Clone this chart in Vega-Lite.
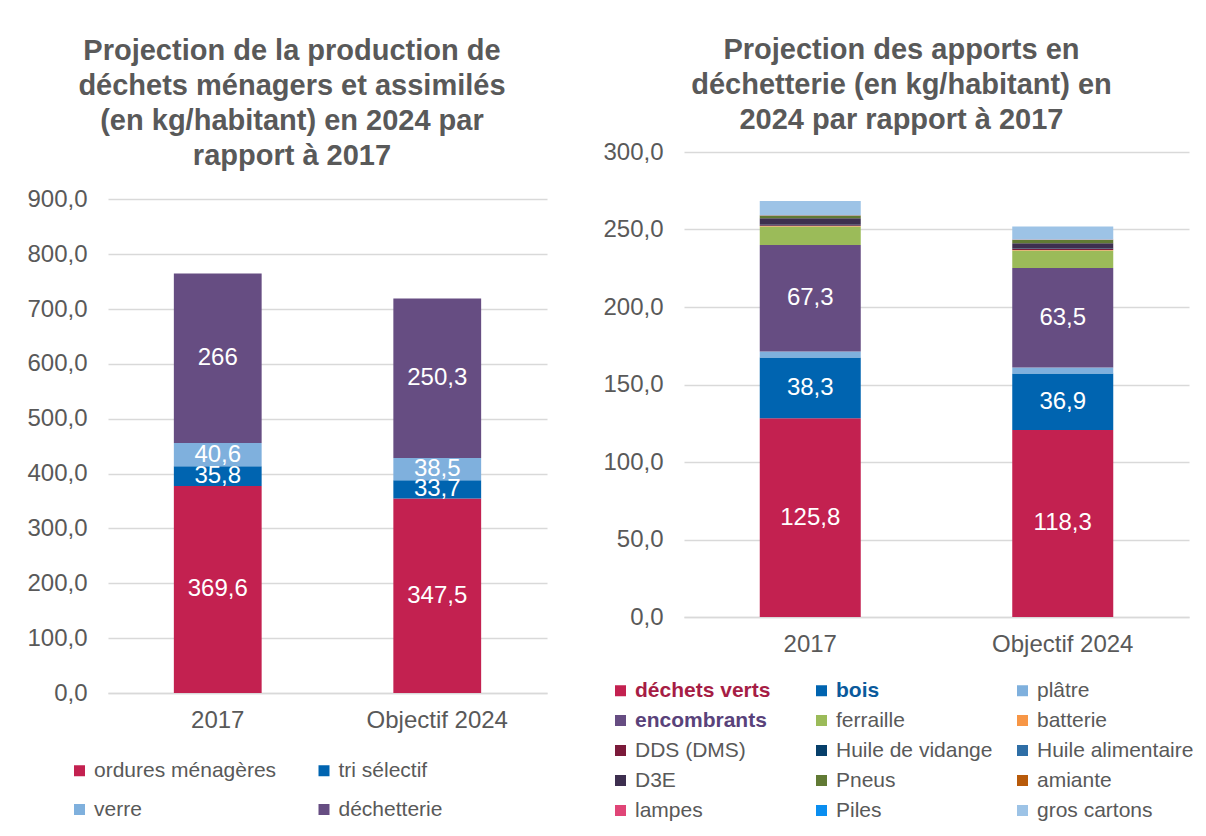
{
  "$schema": "https://vega.github.io/schema/vega-lite/v6.json",
  "background": "white",
  "padding": {"left": 26, "top": 36, "right": 0, "bottom": 0},
  "spacing": 55,
  "config": {
    "font": "Liberation Sans",
    "view": {"stroke": null},
    "axis": {"labelFont": "Liberation Sans", "labelColor": "#595959", "title": null},
    "legend": {"labelFont": "Liberation Sans"}
  },
  "resolve": {"scale": {"color": "independent"}, "legend": {"color": "independent"}},
  "hconcat": [
    {
      "title": {
        "text": ["Projection de la production de", "déchets ménagers et assimilés", "(en kg/habitant) en 2024 par", "rapport à 2017"],
        "font": "Liberation Sans", "fontSize": 29, "fontWeight": "bold", "color": "#595959",
        "lineHeight": 35, "anchor": "middle", "frame": "bounds", "offset": -19, "dx": 5
      },
      "width": 439,
      "height": 541,
      "data": {"values": [
        {"annee": "2017", "serie": "ordures ménagères", "rang": 1, "valeur": 377.4, "etiquette": "369,6"},
        {"annee": "2017", "serie": "tri sélectif", "rang": 2, "valeur": 35.9, "etiquette": "35,8"},
        {"annee": "2017", "serie": "verre", "rang": 3, "valeur": 42.4, "etiquette": "40,6"},
        {"annee": "2017", "serie": "déchetterie", "rang": 4, "valeur": 308.8, "etiquette": "266"},
        {"annee": "Objectif 2024", "serie": "ordures ménagères", "rang": 1, "valeur": 354.4, "etiquette": "347,5"},
        {"annee": "Objectif 2024", "serie": "tri sélectif", "rang": 2, "valeur": 33.3, "etiquette": "33,7"},
        {"annee": "Objectif 2024", "serie": "verre", "rang": 3, "valeur": 40.7, "etiquette": "38,5"},
        {"annee": "Objectif 2024", "serie": "déchetterie", "rang": 4, "valeur": 290.6, "etiquette": "250,3"}
      ]},
      "transform": [
        {"stack": "valeur", "groupby": ["annee"], "sort": [{"field": "rang", "order": "ascending"}], "as": ["v0", "v1"]}
      ],
      "layer": [
        {
          "mark": {"type": "bar"},
          "encoding": {
            "x": {"field": "annee", "type": "nominal",
              "scale": {"paddingInner": 0.6, "paddingOuter": 0.3},
              "axis": {"labelAngle": 0, "labelFontSize": 24, "labelPadding": 15, "ticks": false, "domain": true, "domainColor": "#D9D9D9", "domainWidth": 1.5, "title": null}},
            "y": {"field": "v0", "type": "quantitative",
              "scale": {"domain": [0, 986.2], "nice": false},
              "axis": {"values": [0, 100, 200, 300, 400, 500, 600, 700, 800, 900], "labelExpr": "replace(format(datum.value, '.1f'), '.', ',')", "labelFontSize": 24, "labelPadding": 21, "ticks": false, "domain": false, "gridColor": "#D9D9D9", "gridWidth": 1.5, "title": null}},
            "y2": {"field": "v1"},
            "color": {"field": "serie", "type": "nominal",
              "scale": {"domain": ["ordures ménagères", "tri sélectif", "verre", "déchetterie"], "range": ["#C32150", "#0064B0", "#7FB0DD", "#664D82"]},
              "legend": {"title": null, "orient": "none", "legendX": -39, "legendY": 608, "columns": 2, "direction": "horizontal",
                "symbolType": "square", "symbolSize": 121, "symbolStrokeWidth": 0, "labelFontSize": 21, "labelColor": "#595959",
                "labelLimit": 400, "labelOffset": 4, "columnPadding": 36.5, "rowPadding": 17, "gridAlign": "all"}}
          }
        },
        {
          "transform": [
            {"fold": ["v0", "v1"], "as": ["bord", "pos"]},
            {"aggregate": [{"op": "mean", "field": "pos", "as": "milieu"}], "groupby": ["annee", "etiquette"]}
          ],
          "mark": {"type": "text", "color": "white", "fontSize": 24, "font": "Liberation Sans", "baseline": "middle", "align": "center"},
          "encoding": {
            "x": {"field": "annee", "type": "nominal"},
            "y": {"field": "milieu", "type": "quantitative"},
            "text": {"field": "etiquette"}
          }
        }
      ]
    },
    {
      "title": {
        "text": ["Projection des apports en", "déchetterie (en kg/habitant) en", "2024 par rapport à 2017"],
        "font": "Liberation Sans", "fontSize": 29, "fontWeight": "bold", "color": "#595959",
        "lineHeight": 35, "anchor": "middle", "frame": "bounds", "offset": 5, "dx": 3
      },
      "width": 505,
      "height": 465,
      "data": {"values": [
        {"annee": "2017", "serie": "déchets verts", "rang": 1, "valeur": 128.2, "etiquette": "125,8"},
        {"annee": "2017", "serie": "bois", "rang": 2, "valeur": 39.2, "etiquette": "38,3"},
        {"annee": "2017", "serie": "plâtre", "rang": 3, "valeur": 3.9, "etiquette": ""},
        {"annee": "2017", "serie": "encombrants", "rang": 4, "valeur": 68.7, "etiquette": "67,3"},
        {"annee": "2017", "serie": "ferraille", "rang": 5, "valeur": 12.0, "etiquette": ""},
        {"annee": "2017", "serie": "batterie", "rang": 6, "valeur": 0.2, "etiquette": ""},
        {"annee": "2017", "serie": "DDS (DMS)", "rang": 7, "valeur": 0.6, "etiquette": ""},
        {"annee": "2017", "serie": "Huile de vidange", "rang": 8, "valeur": 0.1, "etiquette": ""},
        {"annee": "2017", "serie": "Huile alimentaire", "rang": 9, "valeur": 0.1, "etiquette": ""},
        {"annee": "2017", "serie": "D3E", "rang": 10, "valeur": 4.3, "etiquette": ""},
        {"annee": "2017", "serie": "Pneus", "rang": 11, "valeur": 1.7, "etiquette": ""},
        {"annee": "2017", "serie": "amiante", "rang": 12, "valeur": 0.05, "etiquette": ""},
        {"annee": "2017", "serie": "lampes", "rang": 13, "valeur": 0.1, "etiquette": ""},
        {"annee": "2017", "serie": "Piles", "rang": 14, "valeur": 0.05, "etiquette": ""},
        {"annee": "2017", "serie": "gros cartons", "rang": 15, "valeur": 9.2, "etiquette": ""},
        {"annee": "Objectif 2024", "serie": "déchets verts", "rang": 1, "valeur": 120.7, "etiquette": "118,3"},
        {"annee": "Objectif 2024", "serie": "bois", "rang": 2, "valeur": 36.4, "etiquette": "36,9"},
        {"annee": "Objectif 2024", "serie": "plâtre", "rang": 3, "valeur": 3.9, "etiquette": ""},
        {"annee": "Objectif 2024", "serie": "encombrants", "rang": 4, "valeur": 64.1, "etiquette": "63,5"},
        {"annee": "Objectif 2024", "serie": "ferraille", "rang": 5, "valeur": 11.4, "etiquette": ""},
        {"annee": "Objectif 2024", "serie": "batterie", "rang": 6, "valeur": 0.3, "etiquette": ""},
        {"annee": "Objectif 2024", "serie": "DDS (DMS)", "rang": 7, "valeur": 0.7, "etiquette": ""},
        {"annee": "Objectif 2024", "serie": "Huile de vidange", "rang": 8, "valeur": 0.2, "etiquette": ""},
        {"annee": "Objectif 2024", "serie": "Huile alimentaire", "rang": 9, "valeur": 0.1, "etiquette": ""},
        {"annee": "Objectif 2024", "serie": "D3E", "rang": 10, "valeur": 3.4, "etiquette": ""},
        {"annee": "Objectif 2024", "serie": "Pneus", "rang": 11, "valeur": 2.2, "etiquette": ""},
        {"annee": "Objectif 2024", "serie": "amiante", "rang": 12, "valeur": 0.05, "etiquette": ""},
        {"annee": "Objectif 2024", "serie": "lampes", "rang": 13, "valeur": 0.1, "etiquette": ""},
        {"annee": "Objectif 2024", "serie": "Piles", "rang": 14, "valeur": 0.05, "etiquette": ""},
        {"annee": "Objectif 2024", "serie": "gros cartons", "rang": 15, "valeur": 8.4, "etiquette": ""}
      ]},
      "transform": [
        {"stack": "valeur", "groupby": ["annee"], "sort": [{"field": "rang", "order": "ascending"}], "as": ["v0", "v1"]}
      ],
      "layer": [
        {
          "mark": {"type": "bar"},
          "encoding": {
            "x": {"field": "annee", "type": "nominal",
              "scale": {"paddingInner": 0.6, "paddingOuter": 0.3},
              "axis": {"labelAngle": 0, "labelFontSize": 24, "labelPadding": 15, "ticks": false, "domain": true, "domainColor": "#D9D9D9", "domainWidth": 1.5, "title": null}},
            "y": {"field": "v0", "type": "quantitative",
              "scale": {"domain": [0, 300], "nice": false},
              "axis": {"values": [0, 50, 100, 150, 200, 250, 300], "labelExpr": "replace(format(datum.value, '.1f'), '.', ',')", "labelFontSize": 24, "labelPadding": 21, "ticks": false, "domain": false, "gridColor": "#D9D9D9", "gridWidth": 1.5, "title": null}},
            "y2": {"field": "v1"},
            "color": {"field": "serie", "type": "nominal",
              "scale": {
                "domain": ["déchets verts", "bois", "plâtre", "encombrants", "ferraille", "batterie", "DDS (DMS)", "Huile de vidange", "Huile alimentaire", "D3E", "Pneus", "amiante", "lampes", "Piles", "gros cartons"],
                "range": ["#C32150", "#0064B0", "#7FB0DD", "#664D82", "#9BBB59", "#F79646", "#7B1A3A", "#063F6A", "#2E6EA6", "#3D2F4F", "#617A34", "#B85A0A", "#E04577", "#0A8EF0", "#9DC3E6"]},
              "legend": {"title": null, "orient": "none", "legendX": -74, "legendY": 528, "columns": 3, "direction": "horizontal",
                "symbolType": "square", "symbolSize": 121, "symbolStrokeWidth": 0, "labelFontSize": 21, "labelColor": "#595959",
                "labelLimit": 400, "labelOffset": 4, "columnPadding": 19, "rowPadding": 8, "gridAlign": "all",
                "encode": {"labels": {"update": {
                  "fontWeight": {"signal": "indexof(['déchets verts','bois','encombrants'], datum.value) >= 0 ? 'bold' : 'normal'"},
                  "fill": {"signal": "datum.value == 'déchets verts' ? '#A61D45' : datum.value == 'bois' ? '#0A5A9C' : datum.value == 'encombrants' ? '#59427A' : '#595959'"}
                }}}}}
          }
        },
        {
          "transform": [
            {"filter": "datum.etiquette != ''"},
            {"fold": ["v0", "v1"], "as": ["bord", "pos"]},
            {"aggregate": [{"op": "mean", "field": "pos", "as": "milieu"}], "groupby": ["annee", "etiquette"]}
          ],
          "mark": {"type": "text", "color": "white", "fontSize": 24, "font": "Liberation Sans", "baseline": "middle", "align": "center"},
          "encoding": {
            "x": {"field": "annee", "type": "nominal"},
            "y": {"field": "milieu", "type": "quantitative"},
            "text": {"field": "etiquette"}
          }
        }
      ]
    }
  ]
}
